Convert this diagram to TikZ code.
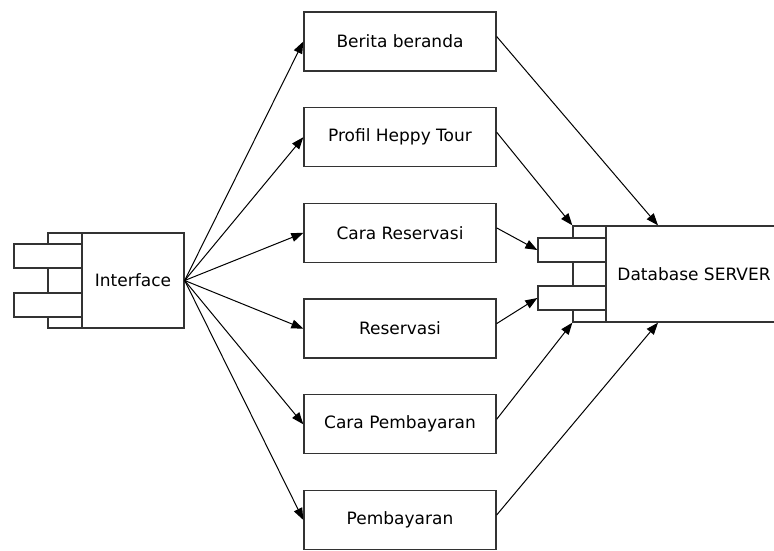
\documentclass[tikz,border=0pt]{standalone}
\usepackage{fontspec}
\setmainfont{DejaVu Sans}
\usetikzlibrary{arrows.meta,positioning}

\begin{document}
\begin{tikzpicture}[x=1pt,y=1pt,->,>={Triangle[length=12pt,width=9pt]},line width=1pt,node distance=95.7pt]
\tikzstyle{every node}=[font=\fontsize{17}{20}\selectfont,text=black]
\tikzstyle{page}=[draw=black!80,line width=1.3pt,fill=white,minimum width=192pt,minimum height=59pt,inner sep=0pt]
\tikzstyle{strip}=[draw=black!80,line width=1.3pt,fill=white,minimum width=34pt,minimum height=95pt,inner sep=0pt]
\tikzstyle{port}=[draw=black!80,line width=1.3pt,fill=white,minimum width=68pt,minimum height=24pt,inner sep=0pt]
\useasboundingbox (0,0) rectangle (774,-550);
% interface component
\node[strip]  (ifstrip) at (65,-280.5) {};
\node[port]   (ifport1) at (48,-256)   {};
\node[port]   (ifport2) at (48,-305)   {};
\node[strip,minimum width=102pt] (iface) at (133,-280.5) {Interface};
% database component
\node[strip,minimum width=33pt,minimum height=96pt] (dbstrip) at (589.5,-274) {};
\node[port]   (dbport1) at (572,-250)  {};
\node[port]   (dbport2) at (572,-298)  {};
\node[strip,minimum width=176pt,minimum height=96pt] (db) at (694,-274) {Database SERVER};
% pages
\node[page] (berita)              at (400,-41.5)  {Berita beranda};
\node[page] (profil)  [below of=berita]  {Profil Heppy Tour};
\node[page] (carares) [below of=profil]  {Cara Reservasi};
\node[page] (reserv)  [below of=carares] {Reservasi};
\node[page] (carabay) [below of=reserv]  {Cara Pembayaran};
\node[page] (bayar)   [below of=carabay] {Pembayaran};
\foreach \p in {berita,profil,carares,reserv,carabay,bayar}
  \draw (iface.east) -- (\p.west);
\draw ([yshift=5pt]berita.east)  -- ([xshift=-36pt]db.north);
\draw ([yshift=5pt]profil.east)  -- (dbstrip.north west);
\draw ([yshift=5pt]carares.east) -- (dbport1.west);
\draw ([yshift=5pt]reserv.east)  -- (dbport2.west);
\draw ([yshift=5pt]carabay.east) -- (dbstrip.south west);
\draw ([yshift=5pt]bayar.east)   -- ([xshift=-36pt]db.south);
\end{tikzpicture}
\end{document}
